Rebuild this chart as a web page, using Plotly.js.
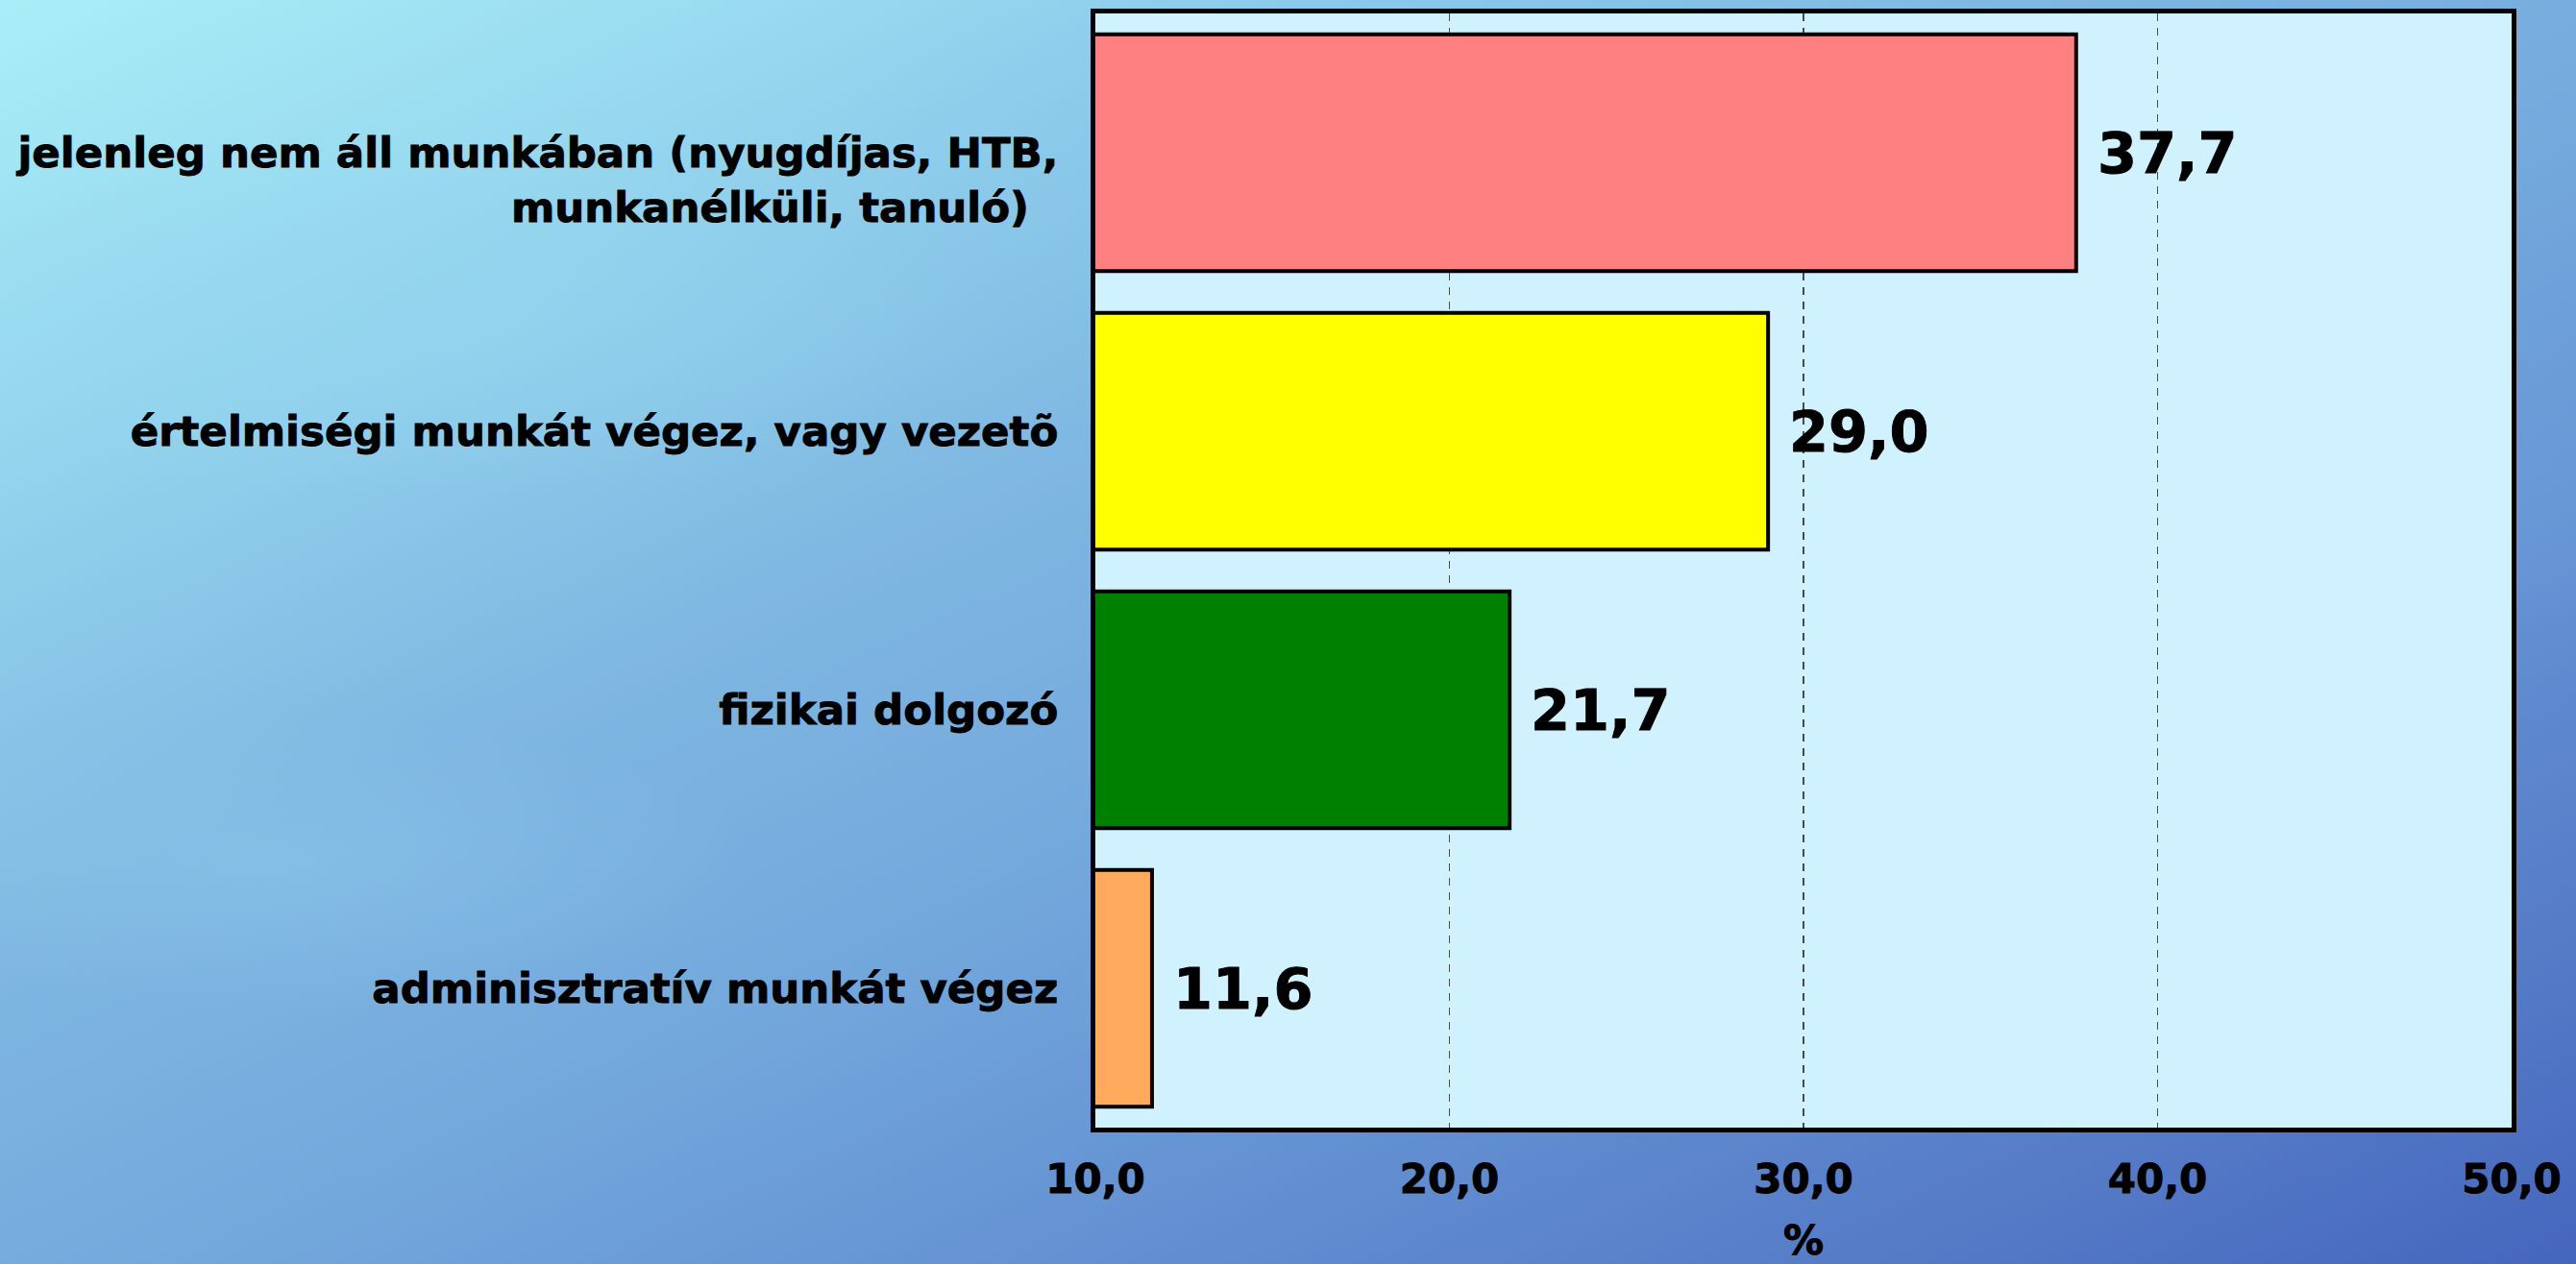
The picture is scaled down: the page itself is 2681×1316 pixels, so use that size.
<!DOCTYPE html>
<html>
<head>
<meta charset="utf-8">
<script src="https://cdn.plot.ly/plotly-3.0.1.min.js"></script>
<style>
  html, body { margin: 0; padding: 0; width: 2681px; height: 1316px; overflow: hidden; }
  body {
    background:
      radial-gradient(ellipse 900px 260px at 420px 330px, rgba(150,215,240,0.55), rgba(150,215,240,0) 70%),
      radial-gradient(ellipse 700px 220px at 300px 900px, rgba(140,200,235,0.45), rgba(140,200,235,0) 70%),
      radial-gradient(ellipse 900px 300px at 1500px 120px, rgba(130,195,235,0.45), rgba(130,195,235,0) 70%),
      radial-gradient(ellipse 800px 250px at 2500px 500px, rgba(110,160,220,0.4), rgba(110,160,220,0) 70%),
      linear-gradient(155deg, #a9eef7 0%, #95d6ee 18%, #7fb8e2 38%, #73a8dc 55%, #6390d2 72%, #5479c6 88%, #4566bd 100%);
  }
  #chart { width: 2681px; height: 1316px; }
  #chart .main-svg text { stroke: #000000; stroke-width: 0.9px; }
</style>
</head>
<body>
<div id="chart"></div>
<script>
// ---- data ----
const categories = [
  "jelenleg nem áll munkában (nyugdíjas, HTB, munkanélküli, tanuló)",
  "értelmiségi munkát végez, vagy vezetõ",
  "fizikai dolgozó",
  "adminisztratív munkát végez"
];
const tickLabels = [
  "\u00a0<br>jelenleg nem áll munkában (nyugdíjas, HTB,<br>munkanélküli, tanuló)\u00a0\u00a0",
  "értelmiségi munkát végez, vagy vezetõ",
  "fizikai dolgozó",
  "adminisztratív munkát végez"
];
const values = [37.7, 29.0, 21.7, 11.6];
const xTickVals = [10, 20, 30, 40, 50];
const xTitle = "%";

// ---- style ----
const barColors = ["#ff8080", "#ffff00", "#008000", "#ffaa5c"];
const FONT = "DejaVu Sans, Verdana, sans-serif";

const trace = {
  type: "bar",
  orientation: "h",
  y: categories,
  x: values,
  marker: { color: barColors, line: { color: "#000000", width: 4 } },
  hoverinfo: "skip"
};

const annotations = values.map((v, i) => ({
  x: v,
  y: categories[i],
  xref: "x",
  yref: "y",
  text: v.toFixed(1).replace(".", ","),
  showarrow: false,
  xanchor: "left",
  yanchor: "middle",
  xshift: 20,
  font: { family: FONT, size: 59, color: "#000000", weight: "bold" }
}));

const layout = {
  width: 2681,
  height: 1316,
  paper_bgcolor: "rgba(0,0,0,0)",
  plot_bgcolor: "#d0f2ff",
  margin: { l: 1140, r: 67, t: 14, b: 142 },
  separators: ", ",
  showlegend: false,
  bargap: 0.15,
  font: { family: FONT, color: "#000000", weight: "bold" },
  xaxis: {
    range: [10, 50],
    tickvals: xTickVals,
    tickformat: ".1f",
    showgrid: true,
    gridcolor: "#4a4a4a",
    gridwidth: 1.8,
    griddash: "8px,7px",
    zeroline: false,
    showline: true,
    mirror: true,
    linecolor: "#000000",
    linewidth: 5,
    ticks: "",
    ticklabelstandoff: 13,
    tickfont: { family: FONT, size: 42, color: "#000000", weight: "bold" },
    title: { text: xTitle, standoff: 28, font: { family: FONT, size: 42, color: "#000000", weight: "bold" } },
    fixedrange: true
  },
  yaxis: {
    type: "category",
    categoryorder: "array",
    categoryarray: categories,
    autorange: "reversed",
    tickvals: categories,
    ticktext: tickLabels,
    showgrid: false,
    zeroline: false,
    showline: true,
    mirror: true,
    linecolor: "#000000",
    linewidth: 5,
    ticks: "",
    ticklabelstandoff: 25,
    tickfont: { family: FONT, size: 43.5, color: "#000000", weight: "bold" },
    fixedrange: true
  },
  annotations: annotations
};

Plotly.newPlot("chart", [trace], layout, { displayModeBar: false, staticPlot: true });
</script>
</body>
</html>
